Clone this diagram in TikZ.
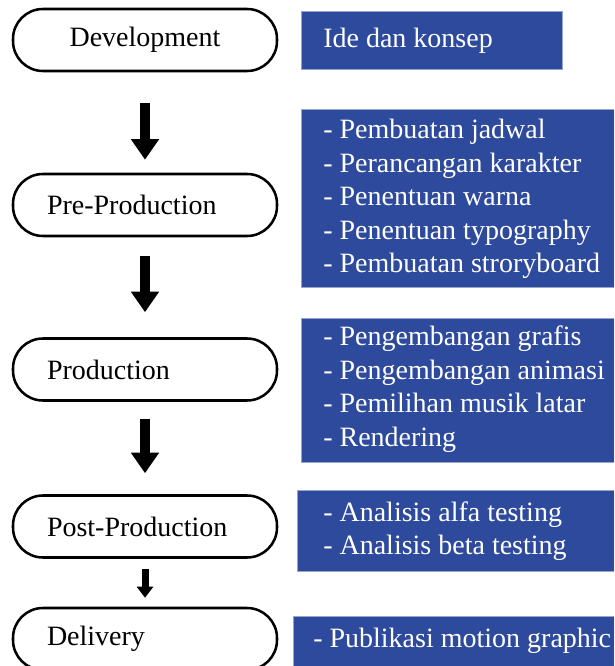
\documentclass[tikz,border=0pt]{standalone}
\usepackage{fontspec}
\setmainfont{Liberation Serif}
\usetikzlibrary{arrows.meta}
\definecolor{boxblue}{RGB}{46,74,156}
\definecolor{boxedge}{RGB}{150,165,205}
\begin{document}
\begin{tikzpicture}[x=0.75pt,y=-0.75pt,
  pill/.style={draw=black, line width=1.9pt, rounded corners=22.5pt, fill=white,
    minimum width=198pt, minimum height=46.5pt, inner ysep=0pt,
    font=\fontsize{21}{25.1}\selectfont},
  pillleft/.style={pill, text width=147pt, inner xsep=25.5pt, align=left},
  pillcenter/.style={pill, text width=147pt, inner xsep=25.5pt, align=center},
  bluebox/.style={draw=boxedge, line width=0.75pt, fill=boxblue, inner sep=0pt},
  bluetext/.style={anchor=west, inner sep=0pt, text=white, align=left,
    font=\fontsize{21}{25.1}\selectfont},
  bigarrow/.style={line width=7.5pt, -{Triangle[width=20.25pt,length=15.5pt]}},
  smallarrow/.style={line width=5.25pt, -{Triangle[width=12pt,length=8.25pt]}}
]
\useasboundingbox (0,0) rectangle (614,666);
\clip (0,0) rectangle (614,666);

% stage pills
\node[pillcenter] (p1) at (145,40) {Development};
\node[pillleft] (p2) at (145,205) {Pre-Production};
\node[pillleft] (p3) at (145,369.5) {Production};
\node[pillleft] (p4) at (145,526.5) {Post-Production};
\node[pillleft] (p5) at (145,639) {Delivery};

% blue boxes
\node[bluebox, minimum width=195.75pt, minimum height=43.5pt] (b1) at (431.5,41) {};
\node[bluebox, minimum width=234.75pt, minimum height=132.75pt] (b2) at (457.5,198.5) {};
\node[bluebox, minimum width=234.75pt, minimum height=108pt] (b3) at (457.5,390) {};
\node[bluebox, minimum width=237.75pt, minimum height=60.75pt] (b4) at (455.5,530.5) {};
\node[bluebox, minimum width=240.75pt, minimum height=45pt] (b5) at (453.5,646) {};

% box texts
\node[bluetext] (t1) at (323,41) {Ide dan konsep};
\node[bluetext] (t2) at (323,199) {- Pembuatan jadwal\\- Perancangan karakter\\- Penentuan warna\\- Penentuan typography\\- Pembuatan stroryboard};
\node[bluetext] (t3) at (323,389) {- Pengembangan grafis\\- Pengembangan animasi\\- Pemilihan musik latar\\- Rendering};
\node[bluetext] (t4) at (323,531) {- Analisis alfa testing\\- Analisis beta testing};
\node[bluetext] (t5) at (313,641) {- Publikasi motion graphic};

% arrows
\draw[bigarrow, shorten <=23.25pt, shorten >=9.75pt] (p1.south) -- (p2.north);
\draw[bigarrow, shorten <=14.25pt, shorten >=18.75pt] (p2.south) -- (p3.north);
\draw[bigarrow, shorten <=12.75pt, shorten >=15.75pt] (p3.south) -- (p4.north);
\draw[smallarrow, shorten <=7.5pt, shorten >=6.75pt] (p4.south) -- (p5.north);
\end{tikzpicture}
\end{document}
